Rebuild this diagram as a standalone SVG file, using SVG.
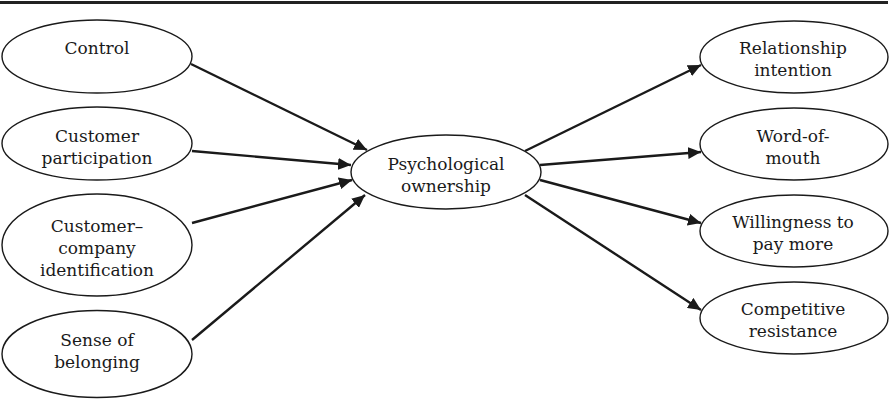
<svg xmlns="http://www.w3.org/2000/svg" width="890" height="400" viewBox="0 0 890 400">
<style>
.n ellipse{fill:#fff;stroke:#1a1a1a;stroke-width:1.4}
.n text{font-family:'DejaVu Serif','Liberation Serif','Noto Serif',serif;font-size:17px;fill:#1a1a1a;text-anchor:middle}
.c line{stroke:#1a1a1a;stroke-width:2.4;marker-end:url(#ah)}
</style>
<defs>
<marker id="ah" markerUnits="userSpaceOnUse" markerWidth="14" markerHeight="12" refX="13" refY="6" orient="auto">
<path d="M0,0 L13,6 L0,12 Z" fill="#1a1a1a"/>
</marker>
</defs>
<rect x="0" y="1" width="888" height="3" fill="#222"/>
<g class="c">
<line x1="191" y1="64" x2="367" y2="150"/>
<line x1="192" y1="151" x2="351" y2="165"/>
<line x1="192" y1="223" x2="352" y2="180"/>
<line x1="192" y1="340" x2="365" y2="195"/>
<line x1="525" y1="151" x2="701" y2="65"/>
<line x1="540" y1="165" x2="701" y2="152"/>
<line x1="540" y1="180" x2="701" y2="223"/>
<line x1="525" y1="195" x2="701" y2="310"/>
</g>
<g id="control" class="n"><ellipse cx="97" cy="56.5" rx="95" ry="36.5"/><text x="97" y="54">Control</text></g>
<g id="participation" class="n"><ellipse cx="97" cy="143.5" rx="95" ry="36.5"/><text x="97" y="142">Customer</text><text x="97" y="164">participation</text></g>
<g id="identification" class="n"><ellipse cx="97" cy="245" rx="95" ry="51"/><text x="97" y="232">Customer–</text><text x="97" y="254">company</text><text x="97" y="276">identification</text></g>
<g id="belonging" class="n"><ellipse cx="97" cy="354" rx="95" ry="43.5"/><text x="97" y="346">Sense of</text><text x="97" y="368">belonging</text></g>
<g id="ownership" class="n"><ellipse cx="446" cy="172" rx="95" ry="37"/><text x="446" y="170">Psychological</text><text x="446" y="192">ownership</text></g>
<g id="relationship" class="n"><ellipse cx="794" cy="57" rx="94" ry="36"/><text x="793" y="54">Relationship</text><text x="793" y="76">intention</text></g>
<g id="wom" class="n"><ellipse cx="794" cy="144" rx="94" ry="36"/><text x="793" y="142">Word-of-</text><text x="793" y="164">mouth</text></g>
<g id="willingness" class="n"><ellipse cx="794" cy="231" rx="94" ry="36"/><text x="793" y="228">Willingness to</text><text x="793" y="250">pay more</text></g>
<g id="competitive" class="n"><ellipse cx="794" cy="318" rx="94" ry="36"/><text x="793" y="315">Competitive</text><text x="793" y="337">resistance</text></g>
</svg>
